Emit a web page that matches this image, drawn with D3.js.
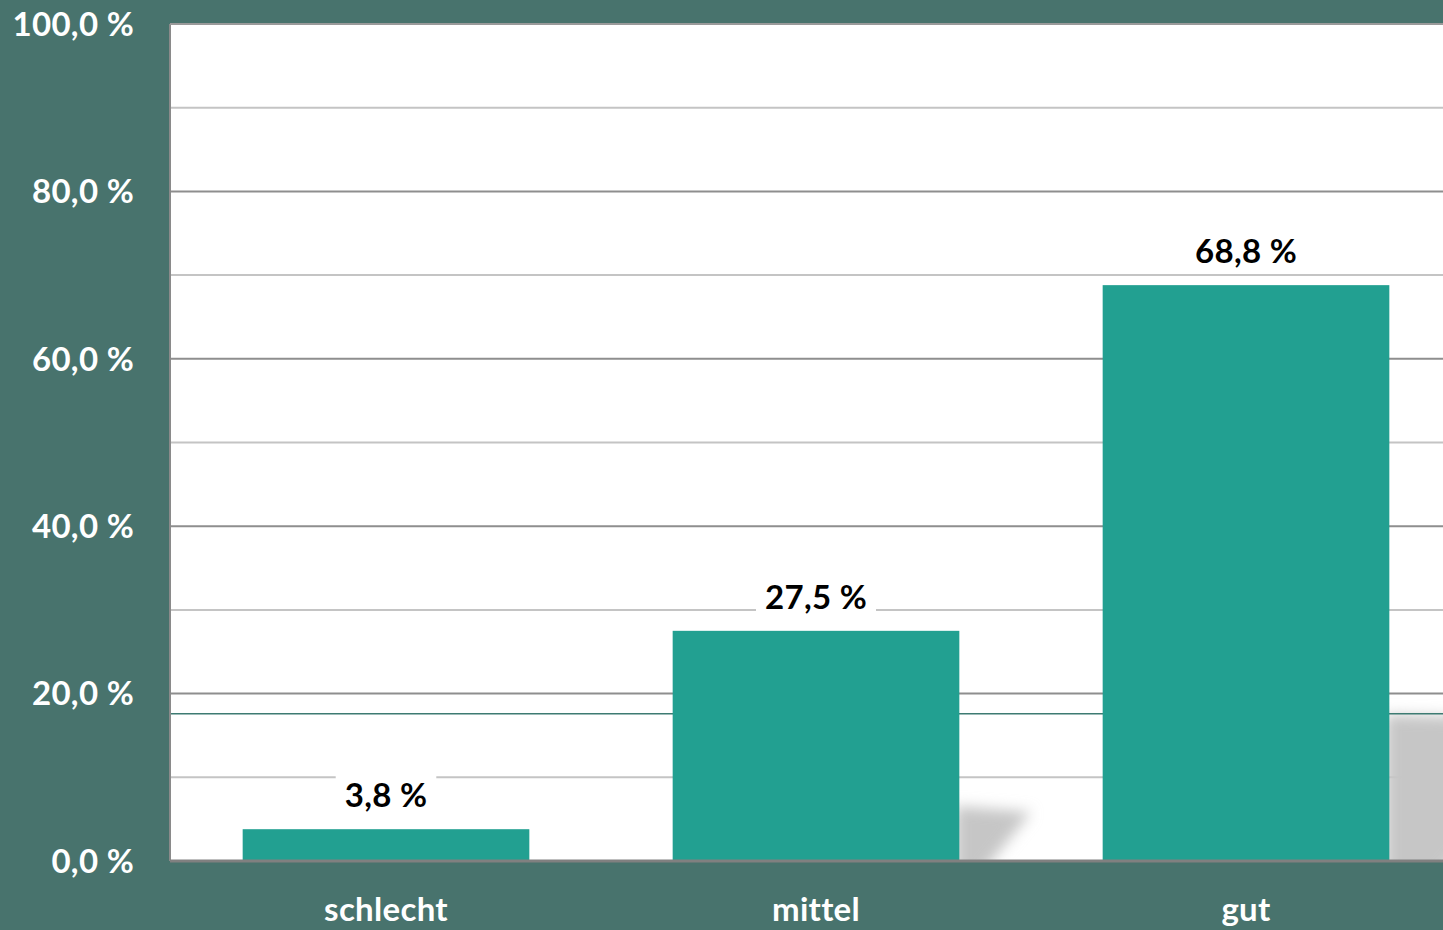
<!DOCTYPE html>
<html>
<head>
<meta charset="utf-8">
<script src="https://cdn.jsdelivr.net/npm/d3@7"></script>
<style>
  html, body { margin: 0; padding: 0; background: #48736d; overflow: hidden; }
  svg { display: block; }
  text { font-family: Lato, "Open Sans", sans-serif; font-weight: 700; letter-spacing: 0.3px; }
</style>
</head>
<body>
<div id="chart"></div>
<script>
var categories = ["schlecht", "mittel", "gut"];
var values = [3.8, 27.5, 68.8];
var valueLabels = ["3,8 %", "27,5 %", "68,8 %"];
var majorTicks = [0, 20, 40, 60, 80, 100];
var minorTicks = [10, 30, 50, 70, 90];
var horizonValue = 17.6;

var width = 1443, height = 930;
var plotLeft = 170, plotTop = 24, plotBottom = 861, plotRight = 1461;

var svg = d3.select("#chart").append("svg")
    .attr("width", width)
    .attr("height", height);

var x = d3.scaleBand()
    .domain(categories)
    .range([plotLeft + 1, plotRight])
    .paddingInner(1 / 3)
    .paddingOuter(1 / 6);

var y = d3.scaleLinear()
    .domain([0, 100])
    .range([plotBottom, plotTop]);

var defs = svg.append("defs");
defs.append("filter")
    .attr("id", "blur")
    .attr("x", "-50%").attr("y", "-50%")
    .attr("width", "200%").attr("height", "200%")
  .append("feGaussianBlur")
    .attr("stdDeviation", 7);
defs.append("clipPath")
    .attr("id", "plotclip")
  .append("rect")
    .attr("x", plotLeft)
    .attr("y", plotTop)
    .attr("width", width - plotLeft)
    .attr("height", plotBottom - plotTop);

// plot area
svg.append("rect")
    .attr("x", plotLeft)
    .attr("y", plotTop)
    .attr("width", width - plotLeft)
    .attr("height", plotBottom - plotTop)
    .attr("fill", "#ffffff");

// grid
svg.append("g").selectAll("line")
    .data(minorTicks)
    .join("line")
    .attr("x1", plotLeft).attr("x2", width)
    .attr("y1", d => y(d)).attr("y2", d => y(d))
    .attr("stroke", "#c4c4c4")
    .attr("stroke-width", 2);

svg.append("g").selectAll("line")
    .data(majorTicks.filter(d => d > 0))
    .join("line")
    .attr("x1", plotLeft).attr("x2", width)
    .attr("y1", d => y(d)).attr("y2", d => y(d))
    .attr("stroke", "#8e8e8e")
    .attr("stroke-width", 2);

// shadows
var shadowData = values.map((v, i) => ({cat: categories[i], v: v})).filter(d => d.v > 10);
svg.append("g")
    .attr("clip-path", "url(#plotclip)")
  .append("g")
    .attr("filter", "url(#blur)")
    .selectAll("polygon")
    .data(shadowData)
    .join("polygon")
    .attr("points", function (d) {
        var x1 = x(d.cat) + x.bandwidth();
        var top = y(d.v * 0.265) + 6;
        var h = plotBottom - top;
        return [
            [x1 - 4, top],
            [x1 + 1.3 * h, top + 6],
            [x1 + 0.3 * h, plotBottom + 20],
            [x1 - 4, plotBottom + 20]
        ].map(p => p.join(",")).join(" ");
    })
    .attr("fill", "#c6c6c6");

// horizon line
svg.append("line")
    .attr("x1", plotLeft).attr("x2", width)
    .attr("y1", y(horizonValue)).attr("y2", y(horizonValue))
    .attr("stroke", "#3d7b72")
    .attr("stroke-width", 1.5);

// bars
svg.append("g").selectAll("rect")
    .data(values)
    .join("rect")
    .attr("x", (d, i) => x(categories[i]))
    .attr("y", d => y(d))
    .attr("width", x.bandwidth())
    .attr("height", d => plotBottom - y(d))
    .attr("fill", "#22a091");

// axis frame
svg.append("line")
    .attr("x1", plotLeft).attr("x2", plotLeft)
    .attr("y1", plotTop).attr("y2", plotBottom)
    .attr("stroke", "#8a8a8a").attr("stroke-width", 2);
svg.append("line")
    .attr("x1", plotLeft).attr("x2", width)
    .attr("y1", plotTop).attr("y2", plotTop)
    .attr("stroke", "#9a9a9a").attr("stroke-width", 2);
svg.append("line")
    .attr("x1", plotLeft).attr("x2", width)
    .attr("y1", plotBottom).attr("y2", plotBottom)
    .attr("stroke", "#808080").attr("stroke-width", 3);

// y tick labels
svg.append("g").selectAll("text")
    .data(majorTicks)
    .join("text")
    .attr("x", 134)
    .attr("y", d => y(d))
    .attr("dy", "0.36em")
    .attr("text-anchor", "end")
    .attr("fill", "#ffffff")
    .style("font-size", "33px")
    .text(d => d.toFixed(1).replace(".", ",") + " %");

// category labels
svg.append("g").selectAll("text")
    .data(categories)
    .join("text")
    .attr("x", d => x(d) + x.bandwidth() / 2)
    .attr("y", 921)
    .attr("text-anchor", "middle")
    .attr("fill", "#ffffff")
    .style("font-size", "33px")
    .text(d => d);

// value labels with white box
var labels = svg.append("g").selectAll("g")
    .data(values)
    .join("g")
    .attr("transform", (d, i) => "translate(" + (x(categories[i]) + x.bandwidth() / 2) + "," + (y(d) - 22) + ")");

var labelBoxes = labels.append("rect")
    .attr("fill", "#ffffff");

var labelTexts = labels.append("text")
    .attr("text-anchor", "middle")
    .attr("fill", "#000000")
    .style("font-size", "33px")
    .text((d, i) => valueLabels[i]);

labelTexts.each(function (d, i) {
    var w = this.getBBox().width + 18;
    d3.select(labelBoxes.nodes()[i])
        .attr("x", -w / 2).attr("y", -32)
        .attr("width", w).attr("height", 42);
});
</script>
</body>
</html>
